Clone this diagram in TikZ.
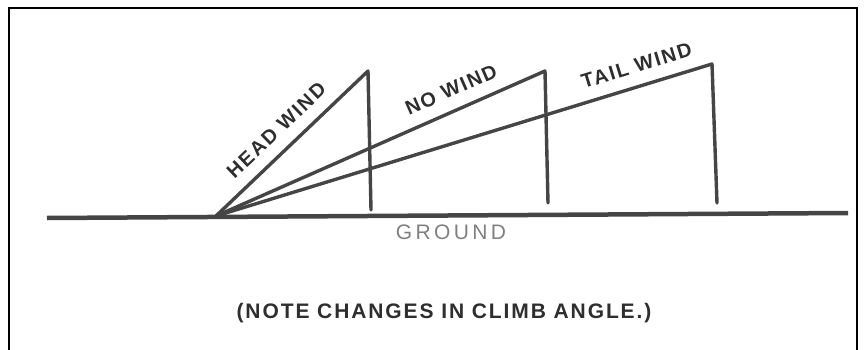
\documentclass[tikz,border=0pt]{standalone}
\usepackage{fontspec}
\newfontfamily\plate{Liberation Sans}[LetterSpace=9]
\usetikzlibrary{positioning}
\definecolor{inkgray}{HTML}{454545}
\definecolor{txtgray}{HTML}{2E2E2E}
\definecolor{gndgray}{HTML}{808080}

\begin{document}
\begin{tikzpicture}[
    x=1pt, y=-1pt,
    every node/.style={font={\plate\fontsize{21}{25}\selectfont}, text=txtgray, inner sep=0pt},
    climb/.style={draw=inkgray, line width=3.4pt, line join=round, line cap=round},
    ground/.style={draw=inkgray, line width=4.5pt},
    windlabel/.style={sloped, above=12pt, font={\plate\bfseries\fontsize{20}{24}\selectfont}},
  ]
  \useasboundingbox (0,0) rectangle (866,350);

  % frame
  \draw[line width=2.6pt] (9,352) -- (9,8) -- (857,8) -- (857,352);

  \coordinate (org) at (216,216);
  \coordinate (gl)  at (47,218);
  \coordinate (gr)  at (848,213);
  \coordinate (hpk) at (368,71);
  \coordinate (hft) at (371,210);
  \coordinate (npk) at (545,71);
  \coordinate (nft) at (548,203);
  \coordinate (tpk) at (712,64);
  \coordinate (tft) at (717,203);

  \draw[ground] (gl) -- (gr);

  \draw[climb] (org) -- node[windlabel, pos=0.49] (hwl) {HEAD WIND} (hpk) -- (hft);
  \draw[climb] (org) -- node[windlabel, pos=0.74] (nwl) {NO WIND} (npk) -- (nft);
  \draw[climb] (org) -- node[windlabel, pos=0.86] (twl) {TAIL WIND} (tpk) -- (tft);

  \node[text=gndgray, font={\plate\fontsize{21}{25}\selectfont\addfontfeature{LetterSpace=16}}]
    (gnd) at (451,232) {GROUND};
  \node[font={\plate\bfseries\fontsize{21}{25}\selectfont}] (note) at (444,313)
    {(NOTE CHANGES IN CLIMB ANGLE.)};
\end{tikzpicture}
\end{document}
